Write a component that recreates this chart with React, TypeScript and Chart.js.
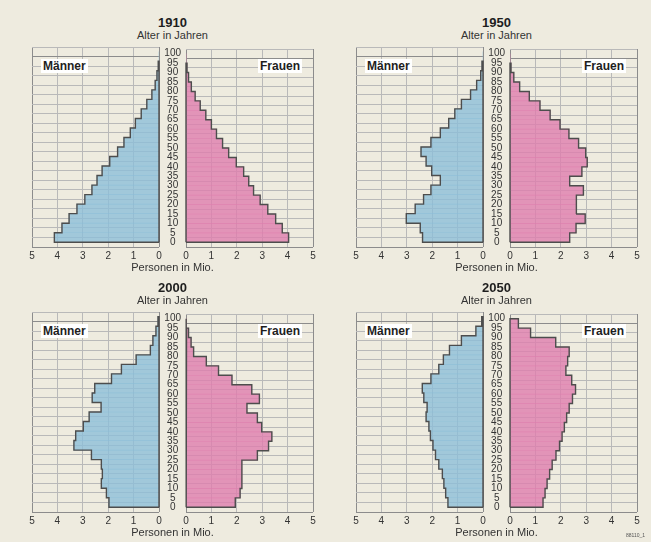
import React, { useEffect, useRef } from "react";
import { Chart, registerables } from "chart.js";

Chart.register(...registerables);

// ---------- data (millions of persons per 5-year age band) ----------
const years = ["1910", "1950", "2000", "2050"];
const ageStarts = [0, 5, 10, 15, 20, 25, 30, 35, 40, 45, 50, 55, 60, 65, 70, 75, 80, 85, 90, 95];
const bandWidth = 5;

const men1910 = [4.12, 3.82, 3.54, 3.23, 2.92, 2.64, 2.44, 2.24, 1.94, 1.63, 1.38, 1.13, 0.93, 0.7, 0.48, 0.28, 0.15, 0.08, 0.03, 0];
const women1910 = [4.04, 3.79, 3.53, 3.22, 2.92, 2.66, 2.47, 2.27, 1.98, 1.68, 1.44, 1.2, 1.0, 0.78, 0.56, 0.36, 0.21, 0.1, 0.04, 0];

const men1950 = [2.38, 2.47, 3.02, 2.67, 2.34, 2.05, 1.68, 2.02, 2.24, 2.44, 2.05, 1.68, 1.35, 1.11, 0.85, 0.49, 0.25, 0.09, 0.04, 0];
const women1950 = [2.35, 2.6, 2.96, 2.6, 2.62, 2.89, 2.35, 2.83, 3.04, 2.98, 2.7, 2.32, 1.97, 1.58, 1.18, 0.76, 0.38, 0.15, 0.04, 0];

const men2000 = [1.97, 2.07, 2.27, 2.23, 2.27, 2.66, 3.35, 3.28, 2.98, 2.75, 2.28, 2.63, 2.53, 1.87, 1.48, 0.9, 0.34, 0.24, 0.12, 0.04];
const women2000 = [1.94, 2.13, 2.2, 2.2, 2.2, 2.81, 3.25, 3.38, 2.98, 2.81, 2.4, 2.89, 2.59, 1.81, 1.28, 0.8, 0.3, 0.2, 0.1, 0.02];

const men2050 = [1.38, 1.47, 1.54, 1.6, 1.74, 1.87, 1.97, 2.07, 2.13, 2.24, 2.2, 2.33, 2.39, 2.05, 1.74, 1.56, 1.32, 0.85, 0.28, 0.05];
const women2050 = [1.3, 1.38, 1.46, 1.56, 1.66, 1.81, 1.95, 2.05, 2.14, 2.23, 2.33, 2.46, 2.58, 2.43, 2.2, 2.27, 2.33, 1.8, 0.81, 0.33];

const xMax = 5;
const ageMax = 100;

const labelMen = "Männer";
const labelWomen = "Frauen";
const labelAge = "Alter in Jahren";
const labelPersons = "Personen in Mio.";

// ---------- styles ----------
const FONT = "'Liberation Sans', Arial, Helvetica, sans-serif";
const BG = "#eeebdf";
const BLUE = "rgba(140,190,217,0.78)";
const PINK = "rgba(222,126,174,0.8)";
const OUTLINE = "#4d4d4d";
const TEXT = "#333333";

Chart.defaults.font.family = FONT;

function staircase(values: number[]) {
  let last = values.length - 1;
  while (last > 0 && values[last] === 0) last--;
  const pts: { x: number; y: number }[] = [{ x: 0, y: 0 }];
  for (let i = 0; i <= last; i++) {
    pts.push({ x: values[i], y: ageStarts[i] });
    pts.push({ x: values[i], y: ageStarts[i] + bandWidth });
  }
  pts.push({ x: 0, y: ageStarts[last] + bandWidth });
  pts.push({ x: 0, y: 0 });
  return pts;
}

function gridColor(max: number) {
  return (ctx: any) => {
    const v = ctx.tick ? ctx.tick.value : null;
    return v === 0 || v === max ? "#8c8c8c" : "#b9b9b9";
  };
}

function makeConfig(values: number[], isMen: boolean): any {
  return {
    type: "bar",
    data: {
      datasets: [
        {
          type: "line",
          data: staircase(values),
          borderColor: OUTLINE,
          borderWidth: 1.4,
          pointRadius: 0,
          fill: false,
          tension: 0,
          clip: 3,
          order: 0,
        },
        {
          type: "bar",
          data: values.map((v, i) => ({ x: v, y: ageStarts[i] + bandWidth / 2 })),
          backgroundColor: isMen ? BLUE : PINK,
          borderWidth: 0,
          barPercentage: 1,
          categoryPercentage: 1,
          order: 1,
        },
      ],
    },
    options: {
      indexAxis: "y",
      animation: false,
      responsive: false,
      maintainAspectRatio: false,
      events: [],
      layout: {
        padding: isMen
          ? { left: 6, right: 6, top: 8, bottom: 0 }
          : { left: 0, right: 6, top: 8, bottom: 0 },
      },
      plugins: {
        legend: { display: false },
        tooltip: { enabled: false },
        title: { display: false },
      },
      scales: {
        x: {
          type: "linear",
          min: 0,
          max: xMax,
          reverse: isMen,
          ticks: { stepSize: 1, font: { size: 10 }, color: TEXT, padding: 3, autoSkip: false },
          grid: { color: gridColor(xMax), drawTicks: false, lineWidth: 1 },
          border: { display: false },
          afterFit: (s: any) => {
            s.height = 16;
          },
        },
        y: {
          type: "linear",
          position: "left",
          min: 0,
          max: ageMax,
          ticks: isMen
            ? { display: false, stepSize: 5 }
            : {
                stepSize: 5,
                autoSkip: false,
                font: { size: 10, lineHeight: 1 },
                color: TEXT,
                crossAlign: "center",
                padding: 5,
              },
          grid: { color: gridColor(ageMax), drawTicks: false, lineWidth: 1 },
          border: { display: false },
          afterFit: (s: any) => {
            s.width = isMen ? 0 : 27;
          },
        },
      },
    },
  };
}

function Half({ values, isMen, left, top }: { values: number[]; isMen: boolean; left: number; top: number }) {
  const ref = useRef<HTMLCanvasElement>(null);
  const w = isMen ? 139 : 160;
  const h = 224;
  useEffect(() => {
    const chart = new Chart(ref.current as HTMLCanvasElement, makeConfig(values, isMen));
    return () => chart.destroy();
  }, []);
  return (
    <canvas
      ref={ref}
      width={w}
      height={h}
      style={{ position: "absolute", left, top, width: w, height: h }}
    />
  );
}

function Text({ x, y, children, size, bold, align = "center", bg }: any) {
  const tx = align === "center" ? "-50%" : align === "right" ? "-100%" : "0";
  return (
    <div
      style={{
        position: "absolute",
        left: x,
        top: y,
        transform: `translate(${tx}, -50%)`,
        fontFamily: FONT,
        fontSize: size,
        fontWeight: bold ? "bold" : "normal",
        color: bold ? "#1e1e1e" : TEXT,
        lineHeight: 1,
        whiteSpace: "nowrap",
        background: bg || "transparent",
        padding: bg ? "1px 2px" : 0,
      }}
    >
      {children}
    </div>
  );
}

function Pyramid({ year, men, women, ox, oy }: any) {
  return (
    <>
      <Text x={ox + 172.5} y={oy + 22} size={13} bold>
        {year}
      </Text>
      <Text x={ox + 172.5} y={oy + 34.5} size={11}>
        {labelAge}
      </Text>
      <Half values={men} isMen={true} left={ox + 26} top={oy + 39} />
      <Half values={women} isMen={false} left={ox + 159} top={oy + 39} />
      <Text x={ox + 41} y={oy + 66} size={12} bold align="left" bg="#ffffff">
        {labelMen}
      </Text>
      <Text x={ox + 302} y={oy + 66} size={12} bold align="right" bg="#ffffff">
        {labelWomen}
      </Text>
      <Text x={ox + 172.5} y={oy + 267} size={11}>
        {labelPersons}
      </Text>
    </>
  );
}

export default function App() {
  const panels = [
    { year: years[0], men: men1910, women: women1910, ox: 0, oy: 0 },
    { year: years[1], men: men1950, women: women1950, ox: 324, oy: 0 },
    { year: years[2], men: men2000, women: women2000, ox: 0, oy: 265 },
    { year: years[3], men: men2050, women: women2050, ox: 324, oy: 265 },
  ];
  return (
    <div
      style={{
        position: "absolute",
        left: 0,
        top: 0,
        width: 651,
        height: 542,
        background: BG,
        overflow: "hidden",
      }}
    >
      {panels.map((p) => (
        <Pyramid key={p.year} {...p} />
      ))}
      <div
        style={{
          position: "absolute",
          left: 626,
          top: 532,
          fontFamily: FONT,
          fontSize: 5,
          color: "#555",
          whiteSpace: "nowrap",
        }}
      >
        88110_1
      </div>
    </div>
  );
}
